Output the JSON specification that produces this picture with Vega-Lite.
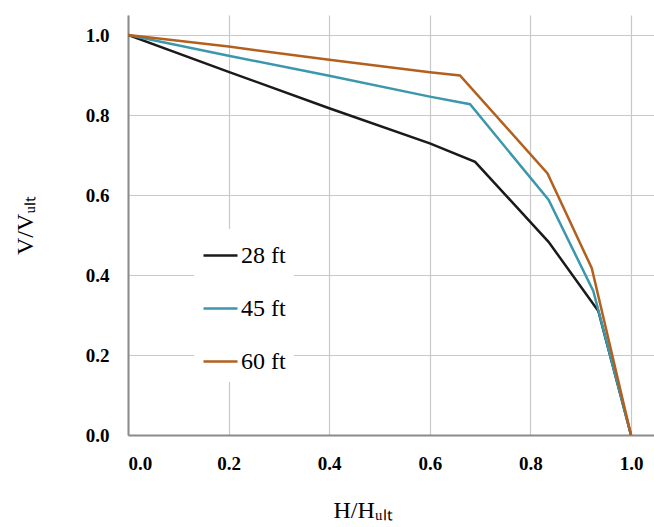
{
  "$schema": "https://vega.github.io/schema/vega-lite/v6.json",
  "width": 526,
  "height": 420,
  "autosize": {"type": "none"},
  "padding": {"left": 128, "top": 15, "right": 0, "bottom": 92},
  "background": "white",
  "data": {
    "values": [
      {"s": "28 ft", "i": 0, "h": 0.0, "v": 1.0},
      {"s": "28 ft", "i": 1, "h": 0.2, "v": 0.908},
      {"s": "28 ft", "i": 2, "h": 0.4, "v": 0.817},
      {"s": "28 ft", "i": 3, "h": 0.6, "v": 0.729},
      {"s": "28 ft", "i": 4, "h": 0.69, "v": 0.683},
      {"s": "28 ft", "i": 5, "h": 0.836, "v": 0.483},
      {"s": "28 ft", "i": 6, "h": 0.935, "v": 0.31},
      {"s": "28 ft", "i": 7, "h": 1.0, "v": 0.0},
      {"s": "45 ft", "i": 0, "h": 0.0, "v": 1.0},
      {"s": "45 ft", "i": 1, "h": 0.2, "v": 0.948},
      {"s": "45 ft", "i": 2, "h": 0.4, "v": 0.898},
      {"s": "45 ft", "i": 3, "h": 0.6, "v": 0.846},
      {"s": "45 ft", "i": 4, "h": 0.68, "v": 0.827},
      {"s": "45 ft", "i": 5, "h": 0.836, "v": 0.588},
      {"s": "45 ft", "i": 6, "h": 0.925, "v": 0.36},
      {"s": "45 ft", "i": 7, "h": 1.0, "v": 0.0},
      {"s": "60 ft", "i": 0, "h": 0.0, "v": 1.0},
      {"s": "60 ft", "i": 1, "h": 0.2, "v": 0.971},
      {"s": "60 ft", "i": 2, "h": 0.4, "v": 0.938},
      {"s": "60 ft", "i": 3, "h": 0.6, "v": 0.907},
      {"s": "60 ft", "i": 4, "h": 0.66, "v": 0.899},
      {"s": "60 ft", "i": 5, "h": 0.834, "v": 0.654},
      {"s": "60 ft", "i": 6, "h": 0.922, "v": 0.417},
      {"s": "60 ft", "i": 7, "h": 1.0, "v": 0.0}
    ]
  },
  "mark": {"type": "line", "strokeWidth": 2.5, "clip": true},
  "encoding": {
    "x": {
      "field": "h", "type": "quantitative",
      "scale": {"domain": [0, 1.0457], "nice": false, "zero": false},
      "axis": {
        "values": [0, 0.2, 0.4, 0.6, 0.8, 1.0],
        "format": ".1f",
        "title": "H/Hᵤₗₜ",
        "titleFont": "Liberation Serif",
        "titleFontSize": 24,
        "titleFontWeight": "normal",
        "titleColor": "#000",
        "titlePadding": 25,
        "titleAnchor": "start",
        "titleX": 205
      }
    },
    "y": {
      "field": "v", "type": "quantitative",
      "scale": {"domain": [0, 1.05], "nice": false},
      "axis": {
        "values": [0, 0.2, 0.4, 0.6, 0.8, 1.0],
        "format": ".1f",
        "title": "V/Vᵤₗₜ",
        "titleFont": "Liberation Serif",
        "titleFontSize": 24,
        "titleFontWeight": "normal",
        "titleColor": "#000",
        "titlePadding": 48
      }
    },
    "color": {
      "field": "s", "type": "nominal",
      "scale": {"domain": ["28 ft", "45 ft", "60 ft"], "range": ["#1a1a1a", "#3b97ab", "#b3601e"]},
      "legend": {
        "title": null,
        "orient": "none",
        "legendX": 66,
        "legendY": 214,
        "symbolType": "stroke",
        "symbolStrokeWidth": 2.5,
        "symbolSize": 1156,
        "labelFont": "Liberation Serif",
        "labelFontSize": 24,
        "labelColor": "#000",
        "labelOffset": 2,
        "rowPadding": 22,
        "fillColor": "white",
        "padding": 8
      }
    },
    "order": {"field": "i", "type": "quantitative"}
  },
  "config": {
    "view": {"stroke": null},
    "legend": {"labelFont": "Liberation Serif"},
    "axis": {
      "domainColor": "#8a8a8a",
      "domainWidth": 2,
      "gridColor": "#c8c8c8",
      "gridWidth": 1.2,
      "grid": true,
      "ticks": false,
      "labelFont": "Liberation Serif",
      "labelFontSize": 19,
      "labelFontWeight": "bold",
      "labelColor": "#000"
    },
    "axisX": {"labelPadding": 19},
    "axisY": {"labelPadding": 19}
  }
}
